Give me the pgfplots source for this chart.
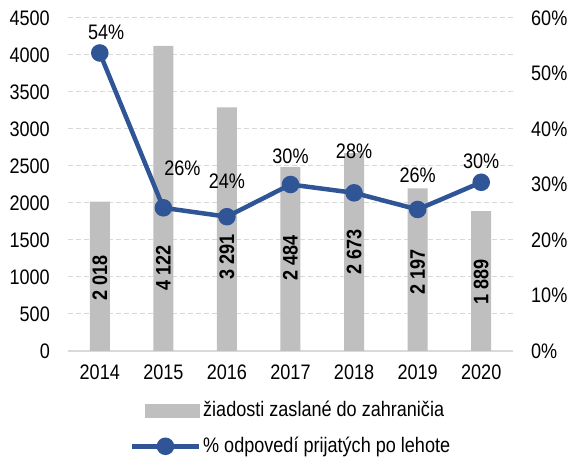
\documentclass[border=0pt]{standalone}
\usepackage{fontspec}
\setmainfont{Liberation Sans}[FakeStretch=0.86]
\usepackage{pgfplots}
\pgfplotsset{compat=1.18}
\definecolor{barg}{RGB}{191,191,191}
\definecolor{lineb}{RGB}{47,85,151}
\definecolor{gridg}{RGB}{217,217,217}
\newcommand{\cf}{\fontsize{21bp}{24bp}\selectfont}
\begin{document}
\cf
\begin{tikzpicture}
\useasboundingbox (-68bp,-108bp) rectangle (500bp,351bp);
\begin{axis}[
  at={(0,0)}, anchor=south west,
  width=445bp, height=333bp, scale only axis,
  xmin=-0.5, xmax=6.5, ymin=0, ymax=4500,
  ytick={0,500,...,4500},
  xtick={0,...,6}, xticklabels={2014,2015,2016,2017,2018,2019,2020},
  axis x line*=bottom, axis y line*=left,
  x axis line style={gridg, line width=1.2bp, -},
  y axis line style={draw=none},
  major tick length=0pt,
  ymajorgrids, grid style={dash pattern=on 5bp off 3bp, gridg, line width=1bp},
  tick label style={font=\cf},
  /pgf/number format/assume math mode=true,
  /pgf/number format/1000 sep={},
  yticklabel style={xshift=-11bp},
  xticklabel style={yshift=-7bp},
]
\addplot[ybar, bar width=20bp, fill=barg, draw=none] coordinates {
(0,2018) (1,4122) (2,3291) (3,2484) (4,2673) (5,2197) (6,1889)};
\node[rotate=90, font=\cf\bfseries] at (axis cs:0,986) {2 018};
\node[rotate=90, font=\cf\bfseries] at (axis cs:1,1122) {4 122};
\node[rotate=90, font=\cf\bfseries] at (axis cs:2,1270) {3 291};
\node[rotate=90, font=\cf\bfseries] at (axis cs:3,1257) {2 484};
\node[rotate=90, font=\cf\bfseries] at (axis cs:4,1338) {2 673};
\node[rotate=90, font=\cf\bfseries] at (axis cs:5,1068) {2 197};
\node[rotate=90, font=\cf\bfseries] at (axis cs:6,932) {1 889};
\end{axis}
\begin{axis}[
  at={(0,0)}, anchor=south west,
  width=445bp, height=333bp, scale only axis,
  xmin=-0.5, xmax=6.5, ymin=0, ymax=60,
  ytick={0,10,...,60},
  yticklabel={\pgfmathprintnumber{\tick}\%},
  axis x line=none, axis y line*=right,
  y axis line style={draw=none},
  major tick length=0pt,
  tick label style={font=\cf},
  /pgf/number format/assume math mode=true,
  yticklabel style={xshift=11bp},
  legend style={draw=none, fill=none, at={(0.1393,-0.2327)}, anchor=west,
    font=\cf, row sep=14bp, inner sep=0pt, nodes={inner sep=1.5bp}},
  legend cell align=left,
]
\addlegendimage{legend image code/.code={
  \path[draw=none, fill=none] (0bp,0bp) -- (67bp,0bp);
  \fill[barg] (13bp,-6.5bp) rectangle (67bp,6.5bp);}}
\addlegendentry{žiadosti zaslané do zahraničia}
\addplot[lineb, line width=4.5bp, mark=*, mark size=6.5bp,
  mark options={fill=lineb, draw=none},
  legend image code/.code={
  \draw[lineb, line width=4.5bp] (0bp,0bp) -- (67bp,0bp);
  \fill[lineb] (33bp,0bp) circle (6.5bp);}]
 coordinates {(0,53.7) (1,25.8) (2,24.2) (3,30.0) (4,28.5) (5,25.5) (6,30.4)};
\addlegendentry{\% odpovedí prijatých po lehote}
\node at (axis cs:0.1,57.5) {54\%};
\node at (axis cs:1.3,33.0) {26\%};
\node at (axis cs:2.0,30.5) {24\%};
\node at (axis cs:3.0,35.0) {30\%};
\node at (axis cs:4.0,35.9) {28\%};
\node at (axis cs:5.0,31.7) {26\%};
\node at (axis cs:6.0,34.1) {30\%};
\end{axis}
\end{tikzpicture}
\end{document}
